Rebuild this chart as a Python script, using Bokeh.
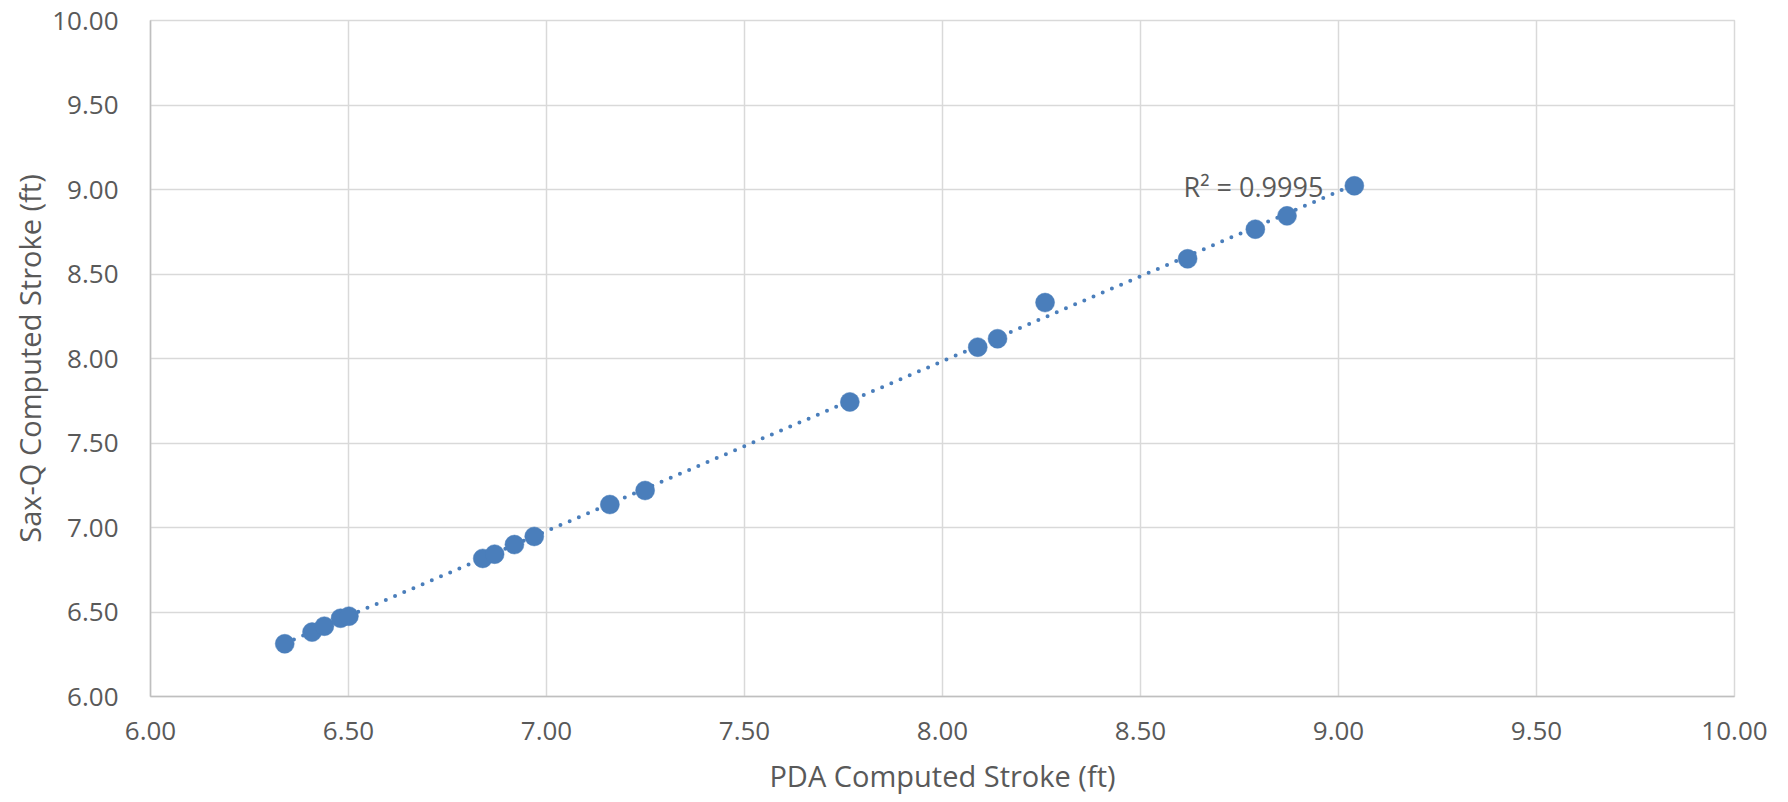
import numpy as np
from bokeh.plotting import figure
from bokeh.models import Range1d, FixedTicker, PrintfTickFormatter, Label, ColumnDataSource
from bokeh.embed import file_html
from bokeh.resources import INLINE

# ---- data ----
pda_stroke = [6.339, 6.408, 6.439, 6.480, 6.501, 6.839, 6.869, 6.919, 6.969,
              7.160, 7.249, 7.766, 8.089, 8.139, 8.259, 8.619, 8.790, 8.870, 9.040]
saxq_stroke = [6.312, 6.381, 6.416, 6.463, 6.475, 6.817, 6.842, 6.899, 6.947,
               7.136, 7.219, 7.743, 8.067, 8.117, 8.331, 8.590, 8.765, 8.844, 9.022]
tick_values = [6.0, 6.5, 7.0, 7.5, 8.0, 8.5, 9.0, 9.5, 10.0]
x_title = "PDA Computed Stroke (ft)"
y_title = "Sax-Q Computed Stroke (ft)"
r2_text = "R\u00b2 = 0.9995"

BLUE = "#4a7ebb"
TEXT = "#595959"
GRID = "#d9d9d9"
FONT = "Open Sans"

p = figure(width=1788, height=802, output_backend="svg", toolbar_location=None,
           x_range=Range1d(6, 10), y_range=Range1d(6, 10),
           min_border_left=150, min_border_right=54, min_border_top=20, min_border_bottom=106)
p.background_fill_color = "white"
p.border_fill_color = "white"
p.outline_line_color = GRID
p.outline_line_width = 1.5

for ax in (p.xaxis[0], p.yaxis[0]):
    ax.ticker = FixedTicker(ticks=tick_values)
    ax.formatter = PrintfTickFormatter(format="%.2f")
    ax.major_tick_line_color = None
    ax.minor_tick_line_color = None
    ax.axis_line_color = "#bfbfbf"
    ax.axis_line_width = 1.5
    ax.major_label_text_font = FONT
    ax.major_label_text_font_size = "26px"
    ax.major_label_text_color = TEXT
    ax.axis_label_text_font = FONT
    ax.axis_label_text_font_size = "29px"
    ax.axis_label_text_font_style = "normal"
    ax.axis_label_text_color = TEXT

p.xaxis.axis_label = x_title
p.yaxis.axis_label = y_title
p.xaxis.major_label_standoff = 19
p.xaxis.axis_label_standoff = 13
p.yaxis.major_label_standoff = 26
p.yaxis.axis_label_standoff = 0

p.xgrid.ticker = FixedTicker(ticks=tick_values)
p.ygrid.ticker = FixedTicker(ticks=tick_values)
p.xgrid.grid_line_color = GRID
p.ygrid.grid_line_color = GRID
p.xgrid.grid_line_width = 1.5
p.ygrid.grid_line_width = 1.5

# linear trendline computed from the data
slope, intercept = np.polyfit(pda_stroke, saxq_stroke, 1)
tx = [min(pda_stroke), max(pda_stroke)]
ty = [slope * v + intercept for v in tx]
p.line(tx, ty, line_color=BLUE, line_width=4, line_dash="0 10", line_cap="round")

src = ColumnDataSource(dict(x=pda_stroke, y=saxq_stroke))
p.scatter("x", "y", source=src, size=19, fill_color=BLUE, line_color=BLUE, line_width=0.5)

lab = Label(x=pda_stroke[-1], y=saxq_stroke[-1], text=r2_text, x_offset=-31, y_offset=-1,
            text_align="right", text_baseline="middle",
            text_font=FONT, text_font_size="27px", text_color=TEXT)
p.add_layout(lab)

open("out.html", "w").write(file_html(p, INLINE))
